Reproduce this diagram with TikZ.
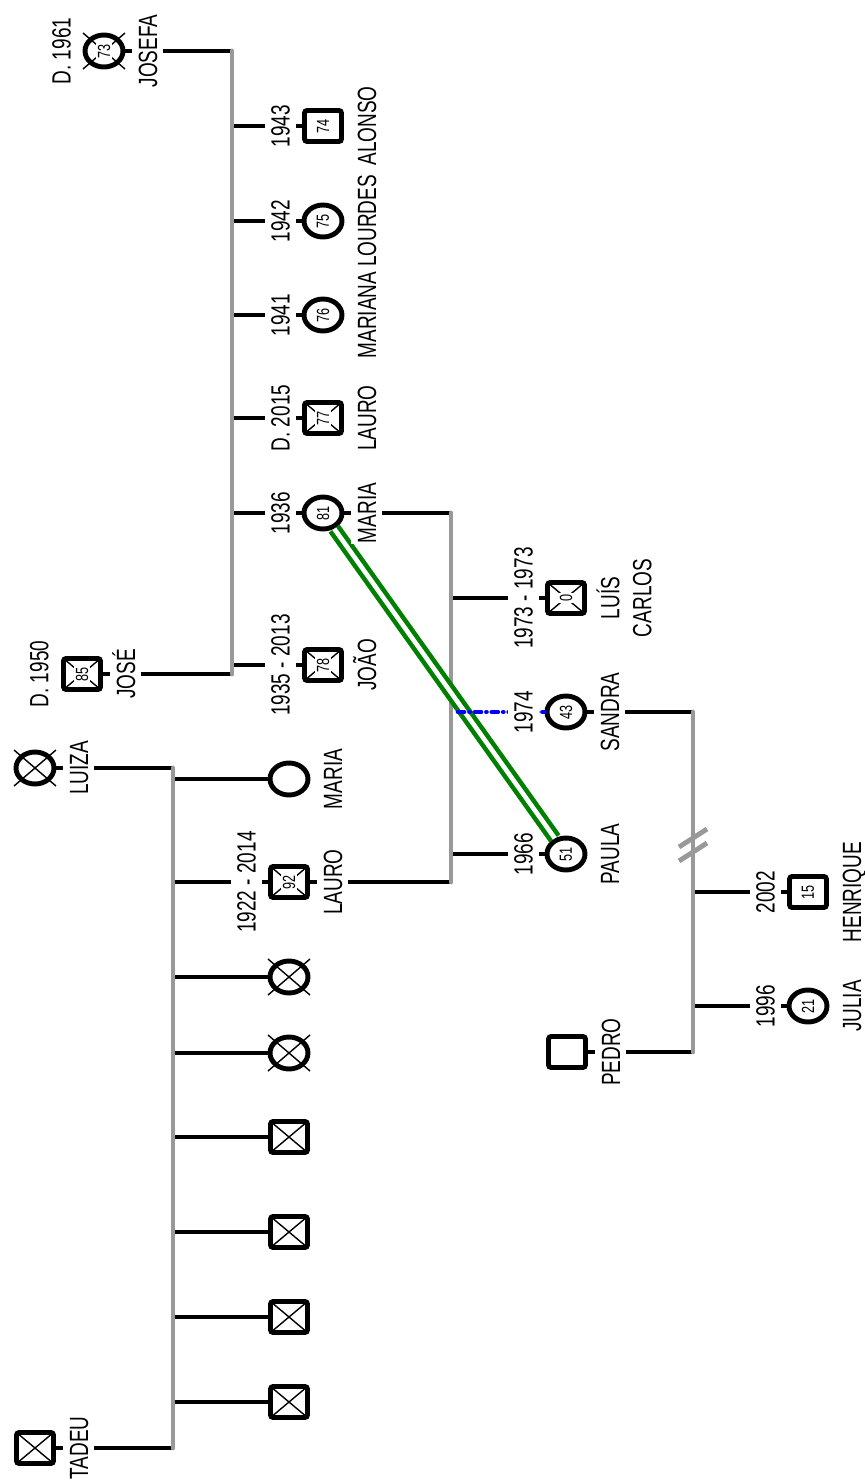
\documentclass[tikz,border=0pt]{standalone}
\usepackage{fontspec}
\setmainfont{Liberation Sans}[FakeStretch=0.72]
\usetikzlibrary{calc,shapes.geometric}
\definecolor{BusGray}{RGB}{153,153,153}
\definecolor{TieGreen}{RGB}{0,128,0}
\definecolor{TieBlue}{RGB}{0,0,255}
\newcommand\labfont{\fontsize{15}{18.2}\selectfont}
\tikzset{
  fem/.style={draw,ellipse,fill=white,line width=2.8pt,minimum width=0.76cm,
    minimum height=0.64cm,inner sep=0pt},
  male/.style={draw,rectangle,rounded corners=1.5pt,fill=white,line width=2.8pt,
    minimum width=0.74cm,minimum height=0.62cm,inner sep=0pt},
  malex/.style={male,path picture={
    \draw[line width=0.8pt] (path picture bounding box.north west) -- (path picture bounding box.south east)
      (path picture bounding box.south west) -- (path picture bounding box.north east);}},
  xline/.style={line width=0.8pt},
  num/.style={rotate=90,fill=white,inner sep=1pt,font=\fontsize{10}{11}\selectfont},
  lab/.style={rotate=90,fill=white,inner xsep=0.5pt,inner ysep=3.5pt,font=\labfont},
  yearlab/.style={lab,anchor=south,text height=10.6pt,text depth=0pt},
  namelab/.style={lab,anchor=north,text height=10.6pt,text depth=0pt},
  twoline/.style={lab,anchor=north,align=center},
  link/.style={line width=2.6pt},
  bus/.style={BusGray,line width=2.8pt,line cap=round},
  tie/.style={TieGreen,double=white,line width=2.6pt,double distance=2.6pt},
  foster/.style={TieBlue,line width=2.6pt,line cap=round,dash pattern=on 3.5pt off 3pt on 0.1pt off 3pt}
}
\begin{document}
\begin{tikzpicture}[x=0.02cm,y=-0.02cm]
  \useasboundingbox (0,0) rectangle (865,1481);
  \coordinate (b1) at (232,0);
  \coordinate (b2) at (451,0);
  \coordinate (b3) at (173,0);
  \coordinate (b4) at (693,0);
  % people
  \foreach \n/\s/\x/\y in {josefa/fem/104/51,jose/malex/82/674,alonso/male/323/126,
      lourdes/fem/323/221,mariana/fem/323/315,lauro/malex/323/418,maria/fem/323/513,
      joao/malex/323/665,luiza/fem/35/768,tadeu/malex/35/1448,mariab/fem/289/779,
      laurob/malex/289/882,fx1/fem/289/977,fx2/fem/289/1053,mx1/malex/289/1137,
      mx2/malex/289/1232,mx3/malex/289/1317,mx4/malex/289/1402,luis/malex/566/598,
      sandra/fem/566/712,paula/fem/566/854,pedro/male/567/1052,henrique/male/808/892,
      julia/fem/808/1006}
    \node[\s] (\n) at (\x,\y) {};
  \foreach \n in {josefa,luiza,fx1,fx2}
    \draw[xline] ($(\n)+(-21,-18)$) -- ($(\n)+(21,18)$) ($(\n)+(-21,18)$) -- ($(\n)+(21,-18)$);
  \foreach \n/\v in {josefa/73,jose/85,alonso/74,lourdes/75,mariana/76,lauro/77,maria/81,
      joao/78,laurob/92,luis/0,sandra/43,paula/51,henrique/15,julia/21}
    \node[num] (n-\n) at (\n) {\v};
  % couples and children
  \draw[link] (josefa) -- (josefa -| b1) (jose) -- (jose -| b1);
  \foreach \n in {alonso,lourdes,mariana,lauro,maria,joao}
    \draw[link] (\n -| b1) -- (\n);
  \draw[link] (luiza) -- (luiza -| b3) (tadeu) -- (tadeu -| b3);
  \foreach \n in {mariab,laurob,fx1,fx2,mx1,mx2,mx3,mx4}
    \draw[link] (\n -| b3) -- (\n);
  \draw[link] (maria) -- (maria -| b2) (laurob) -- (laurob -| b2);
  \foreach \n in {luis,paula}
    \draw[link] (\n -| b2) -- (\n);
  \draw[link] (sandra) -- (sandra -| b4) (pedro) -- (pedro -| b4);
  \foreach \n in {henrique,julia}
    \draw[link] (\n -| b4) -- (\n);
  \draw[bus] (josefa -| b1) -- (jose -| b1);
  \draw[bus] (luiza -| b3) -- (tadeu -| b3);
  \draw[bus] (maria -| b2) -- (laurob -| b2);
  \draw[bus] (sandra -| b4) -- (pedro -| b4);
  \coordinate (brk) at (693,845);
  \draw[bus,line cap=butt] ($(brk)+(-14,2)$) -- ($(brk)+(14,-16)$)
    ($(brk)+(-14,16)$) -- ($(brk)+(14,-2)$);
  \draw[tie] (maria) -- (paula);
  \draw[foster,shorten <=4pt] (sandra -| b2) -- (sandra);
  % labels
  \foreach \n/\t in {josefa/D. 1961,jose/D. 1950,alonso/1943,lourdes/1942,mariana/1941,
      lauro/D. 2015,maria/1936,joao/1935 - 2013,laurob/1922 - 2014,luis/1973 - 1973,
      sandra/1974,paula/1966,henrique/2002,julia/1996}
    \node[yearlab] (y-\n) at ($(\n)+(-27,0)$) {\t};
  \foreach \n/\t in {josefa/JOSEFA,jose/JOSÉ,alonso/ALONSO,lourdes/LOURDES,mariana/MARIANA,
      lauro/LAURO,maria/MARIA,joao/JOÃO,luiza/LUIZA,tadeu/TADEU,mariab/MARIA,
      laurob/LAURO,sandra/SANDRA,paula/PAULA,pedro/PEDRO,henrique/HENRIQUE,julia/JULIA}
    \node[namelab] (l-\n) at ($(\n)+(28,0)$) {\t};
  \node[twoline] (l-luis) at ($(luis)+(24,0)$) {LUÍS\\CARLOS};
\end{tikzpicture}
\end{document}
